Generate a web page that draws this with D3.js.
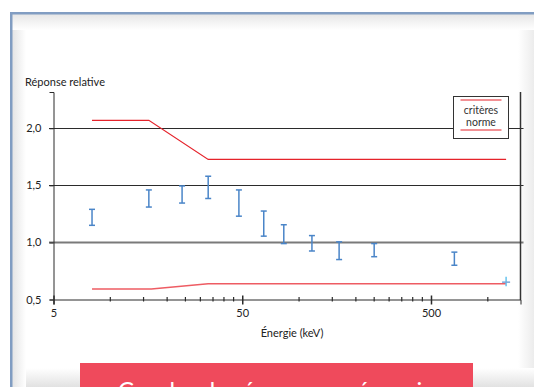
<!DOCTYPE html>
<html>
<head>
<meta charset="utf-8">
<script src="https://cdn.jsdelivr.net/npm/d3@7"></script>
<style>
  body { margin: 0; background: #fff; }
  svg { display: block; }
  text { font-family: Lato, "Noto Sans", sans-serif; }
</style>
</head>
<body>
<div id="chart"></div>
<script>
// values
var energies = [8, 16, 24, 33, 48, 65, 83, 117, 163, 250, 665];
var lowVals  = [1.15, 1.31, 1.345, 1.385, 1.23, 1.055, 0.99, 0.925, 0.85, 0.875, 0.80];
var highVals = [1.29, 1.46, 1.495, 1.58, 1.46, 1.275, 1.155, 1.06, 1.005, 0.99, 0.915];

// last point (light blue)
var lastEnergy = [1250];
var lastLow = [0.615];
var lastHigh = [0.70];
var lastMid = [0.652];

// criteria lines (norm)
var upperNormE = [8, 16, 33, 1250];
var upperNormV = [2.07, 2.07, 1.727, 1.727];
var lowerNormE = [8, 16.5, 33, 1250];
var lowerNormV = [0.592, 0.592, 0.637, 0.637];

var yTicks = [0.5, 1.0, 1.5, 2.0];
var gridTicks = [1.0, 1.5, 2.0];
var xLabels = [5, 50, 500];
var xMinor = [10, 15, 20, 25, 30, 35, 40, 45, 100, 150, 200, 250, 300, 350, 400, 450, 1000];
var legendLabels = ["critères", "norme"];

var W = 534, H = 387;
var svg = d3.select("#chart").append("svg")
    .attr("width", W)
    .attr("height", H);

var defs = svg.append("defs");
function grad(id, x1, y1, x2, y2, c1, c2) {
  var g = defs.append("linearGradient").attr("id", id)
    .attr("x1", x1).attr("y1", y1).attr("x2", x2).attr("y2", y2);
  g.append("stop").attr("offset", "0%").attr("stop-color", c1);
  g.append("stop").attr("offset", "100%").attr("stop-color", c2);
}
grad("gl", 0, 0, 1, 0, "#e4e4e4", "#ffffff");
grad("gt", 0, 0, 0, 1, "#e6e6e6", "#ffffff");
grad("gr", 0, 0, 1, 0, "#ffffff", "#ececec");
grad("gb", 0, 0, 0, 1, "#ffffff", "#e2e2e2");

// panel frame and soft shadows
svg.append("rect").attr("x", 12).attr("y", 14).attr("width", 14).attr("height", H - 14).attr("fill", "url(#gl)");
svg.append("rect").attr("x", 12).attr("y", 14).attr("width", W - 12).attr("height", 16).attr("fill", "url(#gt)");
svg.append("rect").attr("x", 518).attr("y", 30).attr("width", 16).attr("height", H - 30).attr("fill", "url(#gr)");
svg.append("rect").attr("x", 26).attr("y", 368).attr("width", W - 26).attr("height", 19).attr("fill", "url(#gb)");
svg.append("rect").attr("x", 10).attr("y", 12).attr("width", W - 10).attr("height", 2.5).attr("fill", "#819dc2");
svg.append("rect").attr("x", 10).attr("y", 12).attr("width", 2.5).attr("height", H - 12).attr("fill", "#819dc2");

// scales
var x = d3.scaleLog().domain([5, 1490]).range([53.5, 520.5]);
var y = d3.scaleLinear().domain([0.5, 2.318]).range([299.5, 92]);

var fr = d3.formatLocale({decimal: ",", thousands: " ", grouping: [3], currency: ["", "€"]});
var fmt = fr.format(".1f");

// grid lines
svg.append("g").selectAll("line")
  .data(gridTicks)
  .join("line")
    .attr("x1", 49).attr("x2", 523.5)
    .attr("y1", function(d) { return Math.round(y(d)) + 0.5; })
    .attr("y2", function(d) { return Math.round(y(d)) + 0.5; })
    .attr("stroke", function(d) { return d === 1.0 ? "#7a7a7a" : "#2b2b2b"; })
    .attr("stroke-width", function(d) { return d === 1.0 ? 1.8 : 1; });

// Y axis
var yAxis = svg.append("g")
  .attr("transform", "translate(53.5,0)")
  .call(d3.axisLeft(y).tickValues(yTicks).tickFormat(fmt).tickSize(4).tickPadding(8));
yAxis.select(".domain").attr("stroke", "#2b2b2b");
yAxis.selectAll(".tick line").attr("stroke", "#2b2b2b");
yAxis.selectAll("text").style("font-size", "11px").attr("fill", "#222");

// right border line
svg.append("line")
  .attr("x1", 520.5).attr("x2", 520.5)
  .attr("y1", 92).attr("y2", 300)
  .attr("stroke", "#333").attr("stroke-width", 1.5);

// X axis
var xAxis = svg.append("g")
  .attr("transform", "translate(0,299.5)")
  .call(d3.axisBottom(x).tickValues(xLabels).tickFormat(d3.format("d")).tickSize(5).tickPadding(5));
xAxis.select(".domain").attr("stroke", "#2b2b2b");
xAxis.selectAll(".tick line").attr("stroke", "#2b2b2b").attr("stroke-width", 1.5).attr("y1", -4);
xAxis.selectAll("text").style("font-size", "11px").attr("fill", "#222");

svg.append("g").selectAll("line")
  .data(xMinor)
  .join("line")
    .attr("x1", function(d) { return x(d); })
    .attr("x2", function(d) { return x(d); })
    .attr("y1", 297).attr("y2", 301.5)
    .attr("stroke", "#2b2b2b").attr("stroke-width", 1.2);

// axis titles
svg.append("text")
  .attr("x", 25).attr("y", 86)
  .style("font-size", "11px").attr("fill", "#222")
  .text("Réponse relative");

svg.append("text")
  .attr("x", 292).attr("y", 337)
  .attr("text-anchor", "middle")
  .style("font-size", "11px").attr("fill", "#222")
  .text("Énergie (keV)");

// criteria lines
var line = d3.line()
  .x(function(d) { return x(d[0]); })
  .y(function(d) { return y(d[1]); });

svg.append("path")
  .datum(d3.zip(upperNormE, upperNormV))
  .attr("fill", "none").attr("stroke", "#e5232b").attr("stroke-width", 1.2)
  .attr("d", line);

svg.append("path")
  .datum(d3.zip(lowerNormE, lowerNormV))
  .attr("fill", "none").attr("stroke", "#ee5c63").attr("stroke-width", 1.5)
  .attr("d", line);

// error bars
var bars = svg.append("g").selectAll("g")
  .data(d3.zip(energies, lowVals, highVals))
  .join("g")
    .attr("stroke", "#4a85c8").attr("stroke-width", 1.5);
bars.append("line")
  .attr("x1", function(d) { return x(d[0]); }).attr("x2", function(d) { return x(d[0]); })
  .attr("y1", function(d) { return y(d[1]); }).attr("y2", function(d) { return y(d[2]); });
bars.append("line")
  .attr("x1", function(d) { return x(d[0]) - 3; }).attr("x2", function(d) { return x(d[0]) + 3; })
  .attr("y1", function(d) { return y(d[1]); }).attr("y2", function(d) { return y(d[1]); });
bars.append("line")
  .attr("x1", function(d) { return x(d[0]) - 3; }).attr("x2", function(d) { return x(d[0]) + 3; })
  .attr("y1", function(d) { return y(d[2]); }).attr("y2", function(d) { return y(d[2]); });

// last light blue marker
var last = svg.append("g").selectAll("g")
  .data(d3.zip(lastEnergy, lastLow, lastHigh, lastMid))
  .join("g");
last.append("line")
  .attr("x1", function(d) { return x(d[0]); }).attr("x2", function(d) { return x(d[0]); })
  .attr("y1", function(d) { return y(d[1]); }).attr("y2", function(d) { return y(d[2]); })
  .attr("stroke", "#66c3ee").attr("stroke-width", 1.5);
last.append("line")
  .attr("x1", function(d) { return x(d[0]) - 4; }).attr("x2", function(d) { return x(d[0]) + 4; })
  .attr("y1", function(d) { return y(d[3]); }).attr("y2", function(d) { return y(d[3]); })
  .attr("stroke", "#7aa6d8").attr("stroke-width", 1.5);

// legend
var lg = svg.append("g").attr("transform", "translate(453.5,96.5)");
lg.append("rect")
  .attr("width", 55).attr("height", 42)
  .attr("fill", "#fff").attr("stroke", "#333").attr("stroke-width", 1);
lg.append("line").attr("x1", 7).attr("x2", 48).attr("y1", 3.5).attr("y2", 3.5)
  .attr("stroke", "#e5232b").attr("stroke-width", 1);
lg.append("line").attr("x1", 7).attr("x2", 48).attr("y1", 33.5).attr("y2", 33.5)
  .attr("stroke", "#e5232b").attr("stroke-width", 1);
lg.selectAll("text")
  .data(legendLabels)
  .join("text")
    .attr("x", 27.5)
    .attr("y", function(d, i) { return 17 + i * 12; })
    .attr("text-anchor", "middle")
    .style("font-size", "10.5px").attr("fill", "#333")
    .text(function(d) { return d; });

// title banner
svg.append("rect")
  .attr("x", 80).attr("y", 363).attr("width", 393).attr("height", 30)
  .attr("fill", "#ef4a5c");
svg.append("text")
  .attr("x", 276.5).attr("y", 399)
  .attr("text-anchor", "middle")
  .style("font-size", "24px").attr("fill", "#fff")
  .text("Courbe de réponse en énergie");
</script>
</body>
</html>
